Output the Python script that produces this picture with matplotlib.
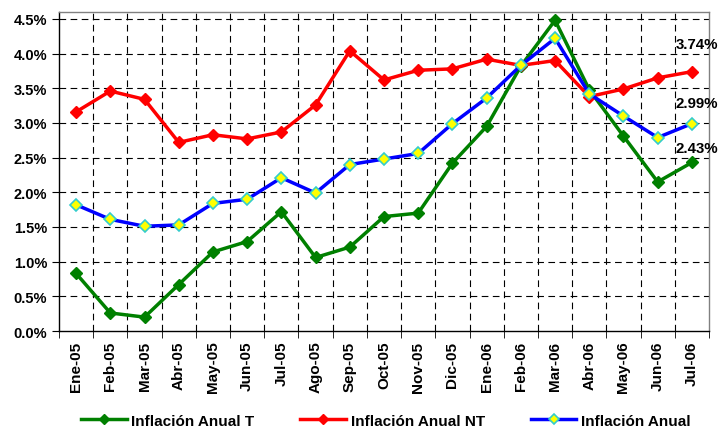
import matplotlib
matplotlib.use("Agg")
import matplotlib.pyplot as plt
from matplotlib.ticker import FuncFormatter, FixedLocator
import numpy as np

months = ["Ene-05", "Feb-05", "Mar-05", "Abr-05", "May-05", "Jun-05", "Jul-05",
          "Ago-05", "Sep-05", "Oct-05", "Nov-05", "Dic-05", "Ene-06", "Feb-06",
          "Mar-06", "Abr-06", "May-06", "Jun-06", "Jul-06"]
infl_t = [0.83, 0.26, 0.20, 0.67, 1.14, 1.29, 1.72, 1.06, 1.21, 1.65, 1.70,
          2.42, 2.95, 3.82, 4.48, 3.48, 2.81, 2.15, 2.43]
infl_nt = [3.16, 3.46, 3.34, 2.72, 2.83, 2.77, 2.87, 3.26, 4.04, 3.62, 3.76,
           3.78, 3.92, 3.83, 3.90, 3.38, 3.49, 3.65, 3.74]
infl = [1.82, 1.61, 1.51, 1.53, 1.84, 1.90, 2.21, 1.99, 2.40, 2.48, 2.56,
        2.99, 3.36, 3.83, 4.22, 3.42, 3.10, 2.79, 2.99]
yticks = [0.0, 0.5, 1.0, 1.5, 2.0, 2.5, 3.0, 3.5, 4.0, 4.5]

plt.rcParams['font.family'] = ['Liberation Sans', 'DejaVu Sans']

fig = plt.figure(figsize=(7.21, 4.31), dpi=100)
ax = fig.add_axes([59/721, 1-332/431, 650/721, 319/431])

x = np.arange(len(months))
l1, = ax.plot(x, infl_t, color='#008000', lw=2.5, marker='D', ms=6,
              mfc='#008000', mec='#008000', label='Inflación Anual T', zorder=3)
l2, = ax.plot(x, infl_nt, color='#ff0000', lw=2.5, marker='D', ms=6,
              mfc='#ff0000', mec='#ff0000', label='Inflación Anual NT', zorder=3)
l3, = ax.plot(x, infl, color='#0000ff', lw=2.5, marker='D', ms=6,
              mfc='#ffff00', mec='#33cccc', mew=1.2, label='Inflación Anual', zorder=4)

ax.set_xlim(-0.5, len(months) - 0.5)
ax.set_ylim(0, 4.6)
ax.set_yticks(yticks)
ax.yaxis.set_major_formatter(FuncFormatter(lambda v, p: f"{v:.1f}%"))
ax.set_xticks(x)
ax.set_xticklabels(months, rotation=90, fontsize=11, fontweight='bold')
ax.xaxis.set_minor_locator(FixedLocator(np.arange(-0.5, len(months), 1.0)))
ax.tick_params(axis='x', which='major', length=0, pad=7)
ax.tick_params(axis='x', which='minor', length=5, direction='out', color='black')
ax.tick_params(axis='y', length=5, direction='out', labelsize=10.5)
for lab in ax.get_yticklabels():
    lab.set_fontweight('bold')

ax.grid(False)
for yv in yticks[1:]:
    ax.axhline(yv, color='black', lw=0.8, ls=(0, (6, 4)), zorder=1)
for xv in np.arange(0.5, len(months) - 1, 1.0):
    ax.axvline(xv, color='black', lw=0.8, ls=(0, (6, 4)), zorder=1)

ax.spines['left'].set_color('black')
ax.spines['bottom'].set_color('black')
ax.spines['top'].set_color('#808080')
ax.spines['right'].set_color('#808080')
for s in ax.spines.values():
    s.set_linewidth(1.0)

# end labels
last = len(months) - 1
for val, dy in [(infl_nt[-1], 19.6), (infl[-1], 15.0), (infl_t[-1], 10.5)]:
    ax.annotate(f"{val:.2f}%", xy=(last, val), xytext=(-11.5, dy),
                textcoords='offset points', fontsize=10.8, fontweight='bold',
                ha='left', va='center', annotation_clip=False)

leg = fig.legend(handles=[l1, l2, l3], loc='center', bbox_to_anchor=(0.535, 0.022),
                 ncol=3, frameon=False, handlelength=3.0, columnspacing=3.0,
                 handletextpad=0.3, markerscale=0.8,
                 prop={'weight': 'bold', 'size': 11,
                       'family': ['Liberation Sans Narrow', 'Liberation Sans']})

fig.savefig('out.png', dpi=100)
